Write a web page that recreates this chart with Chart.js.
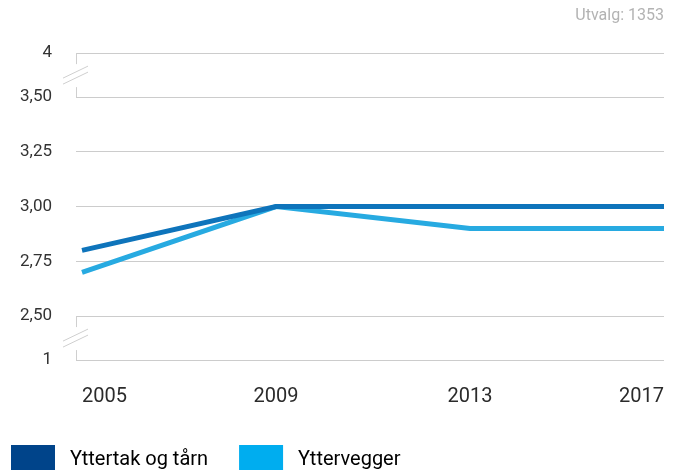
<!DOCTYPE html>
<html>
<head>
<meta charset="utf-8">
<script src="https://cdn.jsdelivr.net/npm/chart.js@4/dist/chart.umd.min.js"></script>
<style>
  html, body { margin: 0; padding: 0; overflow: hidden; background: #fff; }
  canvas { display: block; }
</style>
</head>
<body>
<canvas id="grafico" width="681" height="485"></canvas>
<script>
const ctx = document.getElementById("grafico");

// data
const years = [2005, 2009, 2013, 2017];
const yttertak = [2.8, 3.0, 3.0, 3.0];
const yttervegger = [2.7, 3.0, 2.9, 2.9];

// broken axis: 4 and 1 sit just outside the 2,50 - 3,50 range
const yTicks = [2.3, 2.5, 2.75, 3.0, 3.25, 3.5, 3.7];
const yLabels = ["1", "2,50", "2,75", "3,00", "3,25", "3,50", "4"];

const seriesNames = ["Yttertak og tårn", "Yttervegger"];
const lineColors = ["#0e74bb", "#27aae1"];
const legendColors = ["#00448a", "#00adef"];

function toPoints(values) {
  return values.map((v, i) => ({ x: years[i], y: v }));
}

// axis line with the two "//" breaks
const axisBreaks = {
  id: "axisBreaks",
  afterDraw(chart) {
    const y = chart.scales.y;
    const c = chart.ctx;
    const x = chart.chartArea.left;
    const top = y.getPixelForValue(3.7);
    const hi = y.getPixelForValue(3.5);
    const lo = y.getPixelForValue(2.5);
    const bottom = y.getPixelForValue(2.3);

    c.save();
    c.strokeStyle = "#cfcfcf";
    c.lineWidth = 1;

    [[top, hi], [lo, bottom]].forEach(([a, b]) => {
      const mid = (a + b) / 2;
      c.beginPath();
      c.moveTo(x + 0.5, a);
      c.lineTo(x + 0.5, mid - 11);
      c.moveTo(x + 0.5, mid + 12);
      c.lineTo(x + 0.5, b);
      c.stroke();

      c.beginPath();
      c.moveTo(x - 13, mid + 3);
      c.lineTo(x + 12, mid - 9);
      c.moveTo(x - 13, mid + 9);
      c.lineTo(x + 12, mid - 3);
      c.stroke();
    });
    c.restore();
  }
};

window.grafica = new Chart(ctx, {
  type: "line",
  data: {
    datasets: [{
      label: seriesNames[0],
      data: toPoints(yttertak),
      borderColor: lineColors[0],
      backgroundColor: legendColors[0],
      borderWidth: 5,
      pointRadius: 0,
      fill: false,
      tension: 0
    },
    {
      label: seriesNames[1],
      data: toPoints(yttervegger),
      borderColor: lineColors[1],
      backgroundColor: legendColors[1],
      borderWidth: 5,
      pointRadius: 0,
      fill: false,
      tension: 0
    }]
  },
  options: {
    responsive: false,
    animation: false,
    layout: {
      padding: { left: -20, right: 12, top: 0, bottom: 0 }
    },
    plugins: {
      title: {
        display: true,
        fullSize: false,
        text: "Utvalg: 1353",
        align: "end",
        color: "#b3b3b3",
        font: { family: "Roboto", size: 16, weight: "normal" },
        padding: { top: 6, bottom: 28 }
      },
      legend: {
        position: "bottom",
        align: "start",
        labels: {
          boxWidth: 44,
          boxHeight: 30,
          padding: 31,
          color: "#555555",
          font: { family: "Roboto", size: 20 },
          generateLabels(chart) {
            // leading space widens the gap between box and text
            return seriesNames.map((name, i) => ({
              text: " " + name,
              fillStyle: legendColors[i],
              strokeStyle: legendColors[i],
              lineWidth: 0,
              datasetIndex: i
            }));
          }
        }
      },
      tooltip: { enabled: false }
    },
    scales: {
      x: {
        type: "linear",
        min: 2004.876,
        max: 2017,
        grid: { display: false },
        border: { display: false },
        afterBuildTicks(scale) {
          scale.ticks = years.map(v => ({ value: v }));
        },
        afterFit(scale) {
          scale.height = 54;
        },
        ticks: {
          align: "inner",
          padding: 17,
          color: "#2b2b2b",
          font: { family: "Roboto", size: 20 },
          callback: (v) => String(v)
        }
      },
      y: {
        min: 2.3,
        max: 3.7,
        border: { display: false },
        grid: {
          color: "#cccccc",
          lineWidth: 1,
          drawTicks: false
        },
        afterBuildTicks(scale) {
          scale.ticks = yTicks.map(v => ({ value: v }));
        },
        afterFit(scale) {
          scale.width = 96;
        },
        ticks: {
          padding: 24,
          color: "#333333",
          font: { family: "Roboto", size: 17 },
          callback: (v) => yLabels[yTicks.indexOf(v)]
        }
      }
    }
  },
  plugins: [axisBreaks]
});
</script>
</body>
</html>
